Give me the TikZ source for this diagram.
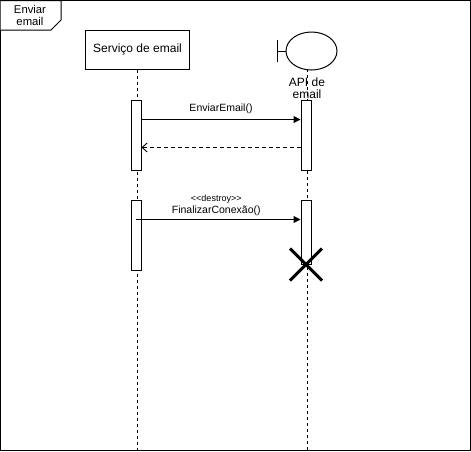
\documentclass[tikz,border=0pt]{standalone}
\usepackage{fontspec}
\setmainfont{Liberation Sans}
\usetikzlibrary{arrows.meta,calc,shapes.geometric}
\definecolor{SeqLine}{HTML}{000000}

\begin{document}
\begin{tikzpicture}[x=1pt,y=-1pt,
    lifebox/.style={draw=SeqLine,fill=white,line width=1pt,minimum width=104pt,minimum height=39pt,inner sep=0pt,font=\fontsize{12}{14}\selectfont},
    actbar/.style={draw=SeqLine,fill=white,line width=1pt,minimum width=10pt,inner sep=0pt},
    msglabel/.style={font=\fontsize{10.5}{12.5}\selectfont,align=center,inner sep=0pt}]
  \useasboundingbox (0,0) rectangle (471,451);
  % frame with its tab
  \draw[line width=1pt,SeqLine] (0.5,0.5) rectangle (470.3,450.3);
  \draw[line width=1pt,SeqLine,fill=white] (0.5,0.5) -- (61,0.5) -- (61,20) -- (51,30) -- (0.5,30);
  \node[font=\fontsize{11.3}{12}\selectfont,align=center,inner sep=0pt] (tab) at (30,15) {Enviar\\email};
  % participants
  \node[lifebox] (svc) at (137.5,49.5) {Serviço de email};
  \node[draw=SeqLine,line width=1pt,ellipse,minimum width=51pt,minimum height=38pt,inner sep=0pt] (api) at (311.5,51) {};
  \coordinate (apiBarTop) at (277,40);
  \coordinate (apiBarBot) at (277,62);
  \draw[line width=1pt] (apiBarTop) -- (apiBarBot);
  \draw[line width=1pt] ($(apiBarTop)!.5!(apiBarBot)$) -- (api.west);
  % lifelines
  \coordinate (svcEnd) at (137,450);
  \coordinate (apiTop) at (307,69);
  \coordinate (apiEnd) at (307,450);
  \draw[dashed,line width=.9pt,dash pattern=on 3pt off 3pt] (svc.south -| svcEnd) -- (svcEnd);
  \draw[dashed,line width=.9pt,dash pattern=on 3pt off 3pt] (apiTop) -- (apiEnd);
  \node[font=\fontsize{12}{12}\selectfont,align=center,inner sep=0pt,fill=none] (apiName) at (307,88) {API de\\email};
  % activations
  \node[actbar,minimum height=70pt] (act1) at (136,135) {};
  \node[actbar,minimum height=70pt] (act2) at (306,135) {};
  \node[actbar,minimum height=70pt] (act3) at (136,235) {};
  \node[actbar,minimum height=64pt] (act4) at (306,232) {};
  % messages
  \draw[line width=1pt,-{Triangle[length=7pt,width=7pt]}] ([yshift=-20pt]act1.north east) -- ([yshift=-20pt]act2.north west)
    node[msglabel,midway,above=5pt] (m1) {EnviarEmail()};
  \draw[line width=.9pt,dashed,dash pattern=on 4pt off 3pt,-{Straight Barb[length=5pt,width=9pt]}] ([yshift=-48pt]act2.north west) -- ([yshift=-48pt]act1.north east);
  \draw[line width=1pt,-{Triangle[length=7pt,width=7pt]}] ([yshift=-20pt]act3.north) -- ([yshift=-20pt]act4.north west)
    node[msglabel,midway,above=3pt,xshift=-2pt] (m2) {{\fontsize{9}{11}\selectfont <{}<destroy>{}>}\\FinalizarConexão()};
  % destruction mark
  \draw[line width=3pt] ($(act4.south)+(-16,-16)$) -- ($(act4.south)+(16,16)$);
  \draw[line width=3pt] ($(act4.south)+(-16,16)$) -- ($(act4.south)+(16,-16)$);
\end{tikzpicture}
\end{document}
